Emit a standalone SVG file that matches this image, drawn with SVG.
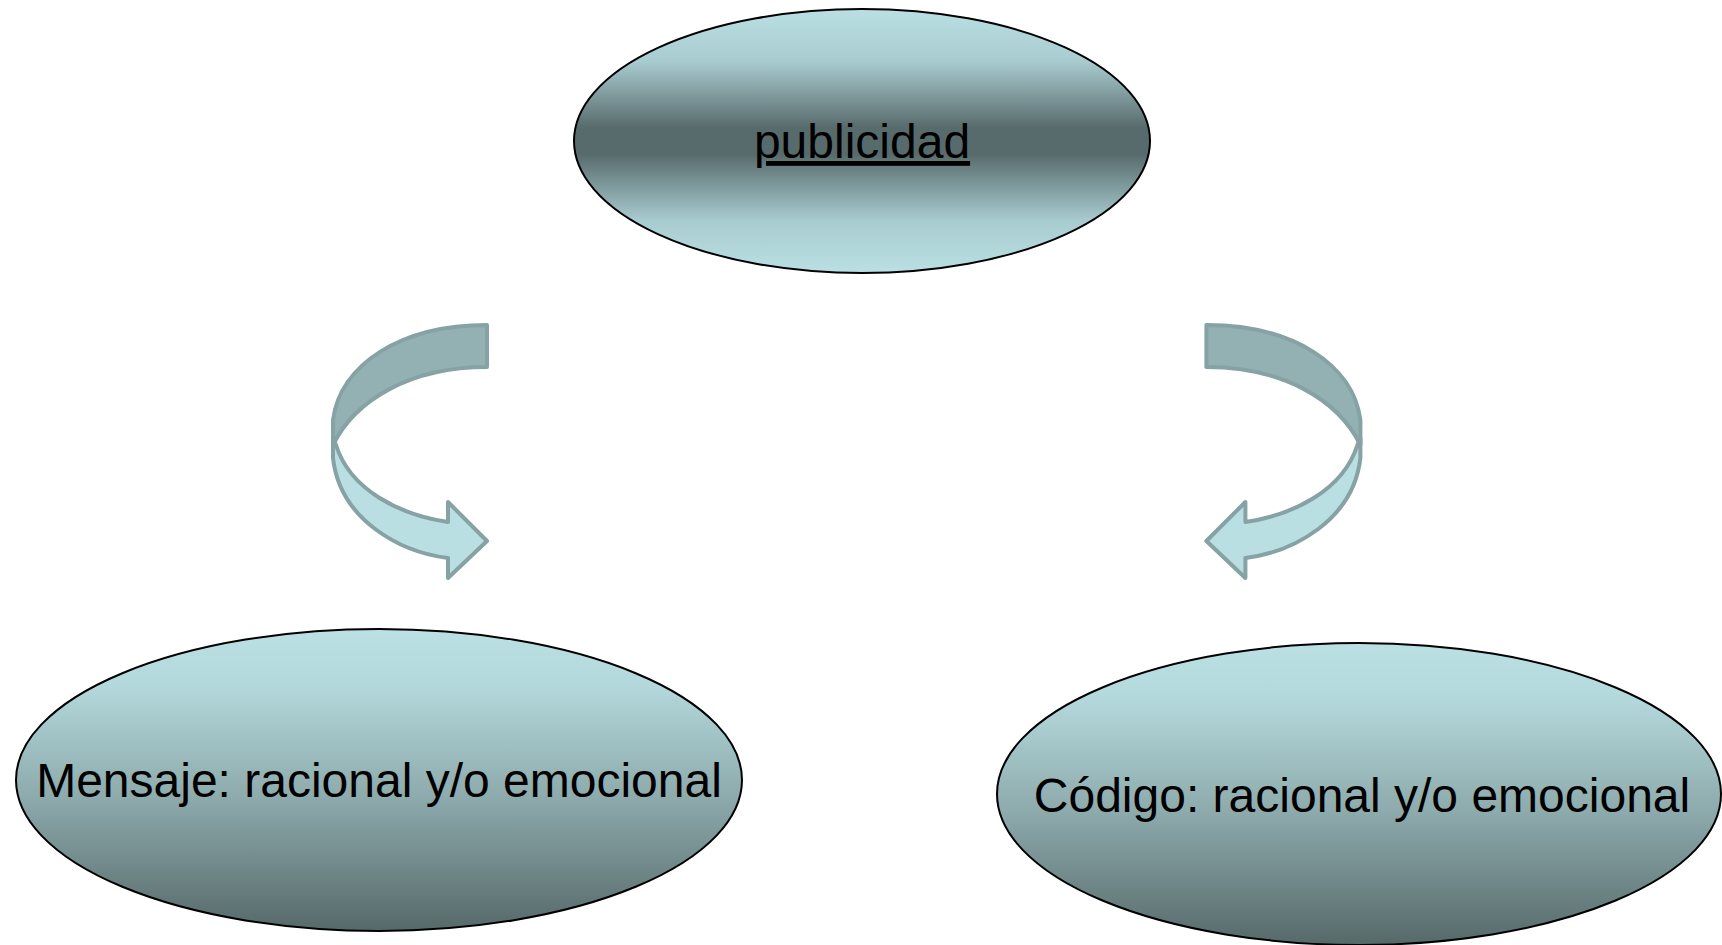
<svg xmlns="http://www.w3.org/2000/svg" width="1722" height="945" viewBox="0 0 1722 945">
<defs>
<linearGradient id="gTop" x1="0" y1="0" x2="0" y2="1">
<stop offset="0" stop-color="#bae0e4"/>
<stop offset="0.2" stop-color="#a8cbcf"/>
<stop offset="0.45" stop-color="#586b6c"/>
<stop offset="0.55" stop-color="#586b6c"/>
<stop offset="0.8" stop-color="#a8cbcf"/>
<stop offset="1" stop-color="#bae0e4"/>
</linearGradient>
<linearGradient id="gBot" x1="0" y1="0" x2="0" y2="1">
<stop offset="0" stop-color="#bae0e4"/>
<stop offset="0.18" stop-color="#b4d9dc"/>
<stop offset="0.55" stop-color="#8eabad"/>
<stop offset="1" stop-color="#566969"/>
</linearGradient>
<g id="curvedArrow">
<path class="back" d="M 487,325 C 400,325 340,365 333,420 L 333,445 C 355,400 410,367 487,367 Z"/>
<path class="front" d="M 333,438 L 333,458 C 340,520 400,552 448,558 L 448,578 L 487,541 L 448,502 L 448,522 C 400,515 350,490 336,445 Z"/>
</g>
</defs>
<style>
.node ellipse { stroke: #000; stroke-width: 2; }
.label { font-family: "Liberation Sans", Arial, sans-serif; font-size: 48px; fill: #000; text-anchor: middle; }
.back { fill: #93b1b2; stroke: #86a2a4; stroke-width: 4; stroke-linejoin: round; }
.front { fill: #b9dfe2; stroke: #86a2a4; stroke-width: 4; stroke-linejoin: round; }
</style>
<rect width="1722" height="945" fill="#fff"/>
<g id="connectors">
<use href="#curvedArrow"/>
<use href="#curvedArrow" transform="translate(1693.4,0) scale(-1,1)"/>
</g>
<g id="node-publicidad" class="node">
<ellipse cx="862" cy="141" rx="288" ry="132" fill="url(#gTop)"/>
<text class="label" x="862" y="158" text-decoration="underline">publicidad</text>
</g>
<g id="node-mensaje" class="node">
<ellipse cx="379" cy="780" rx="363" ry="151" fill="url(#gBot)"/>
<text class="label" x="379" y="797">Mensaje: racional y/o emocional</text>
</g>
<g id="node-codigo" class="node">
<ellipse cx="1359" cy="794" rx="362" ry="151" fill="url(#gBot)"/>
<text class="label" x="1362" y="812">Código: racional y/o emocional</text>
</g>
</svg>
